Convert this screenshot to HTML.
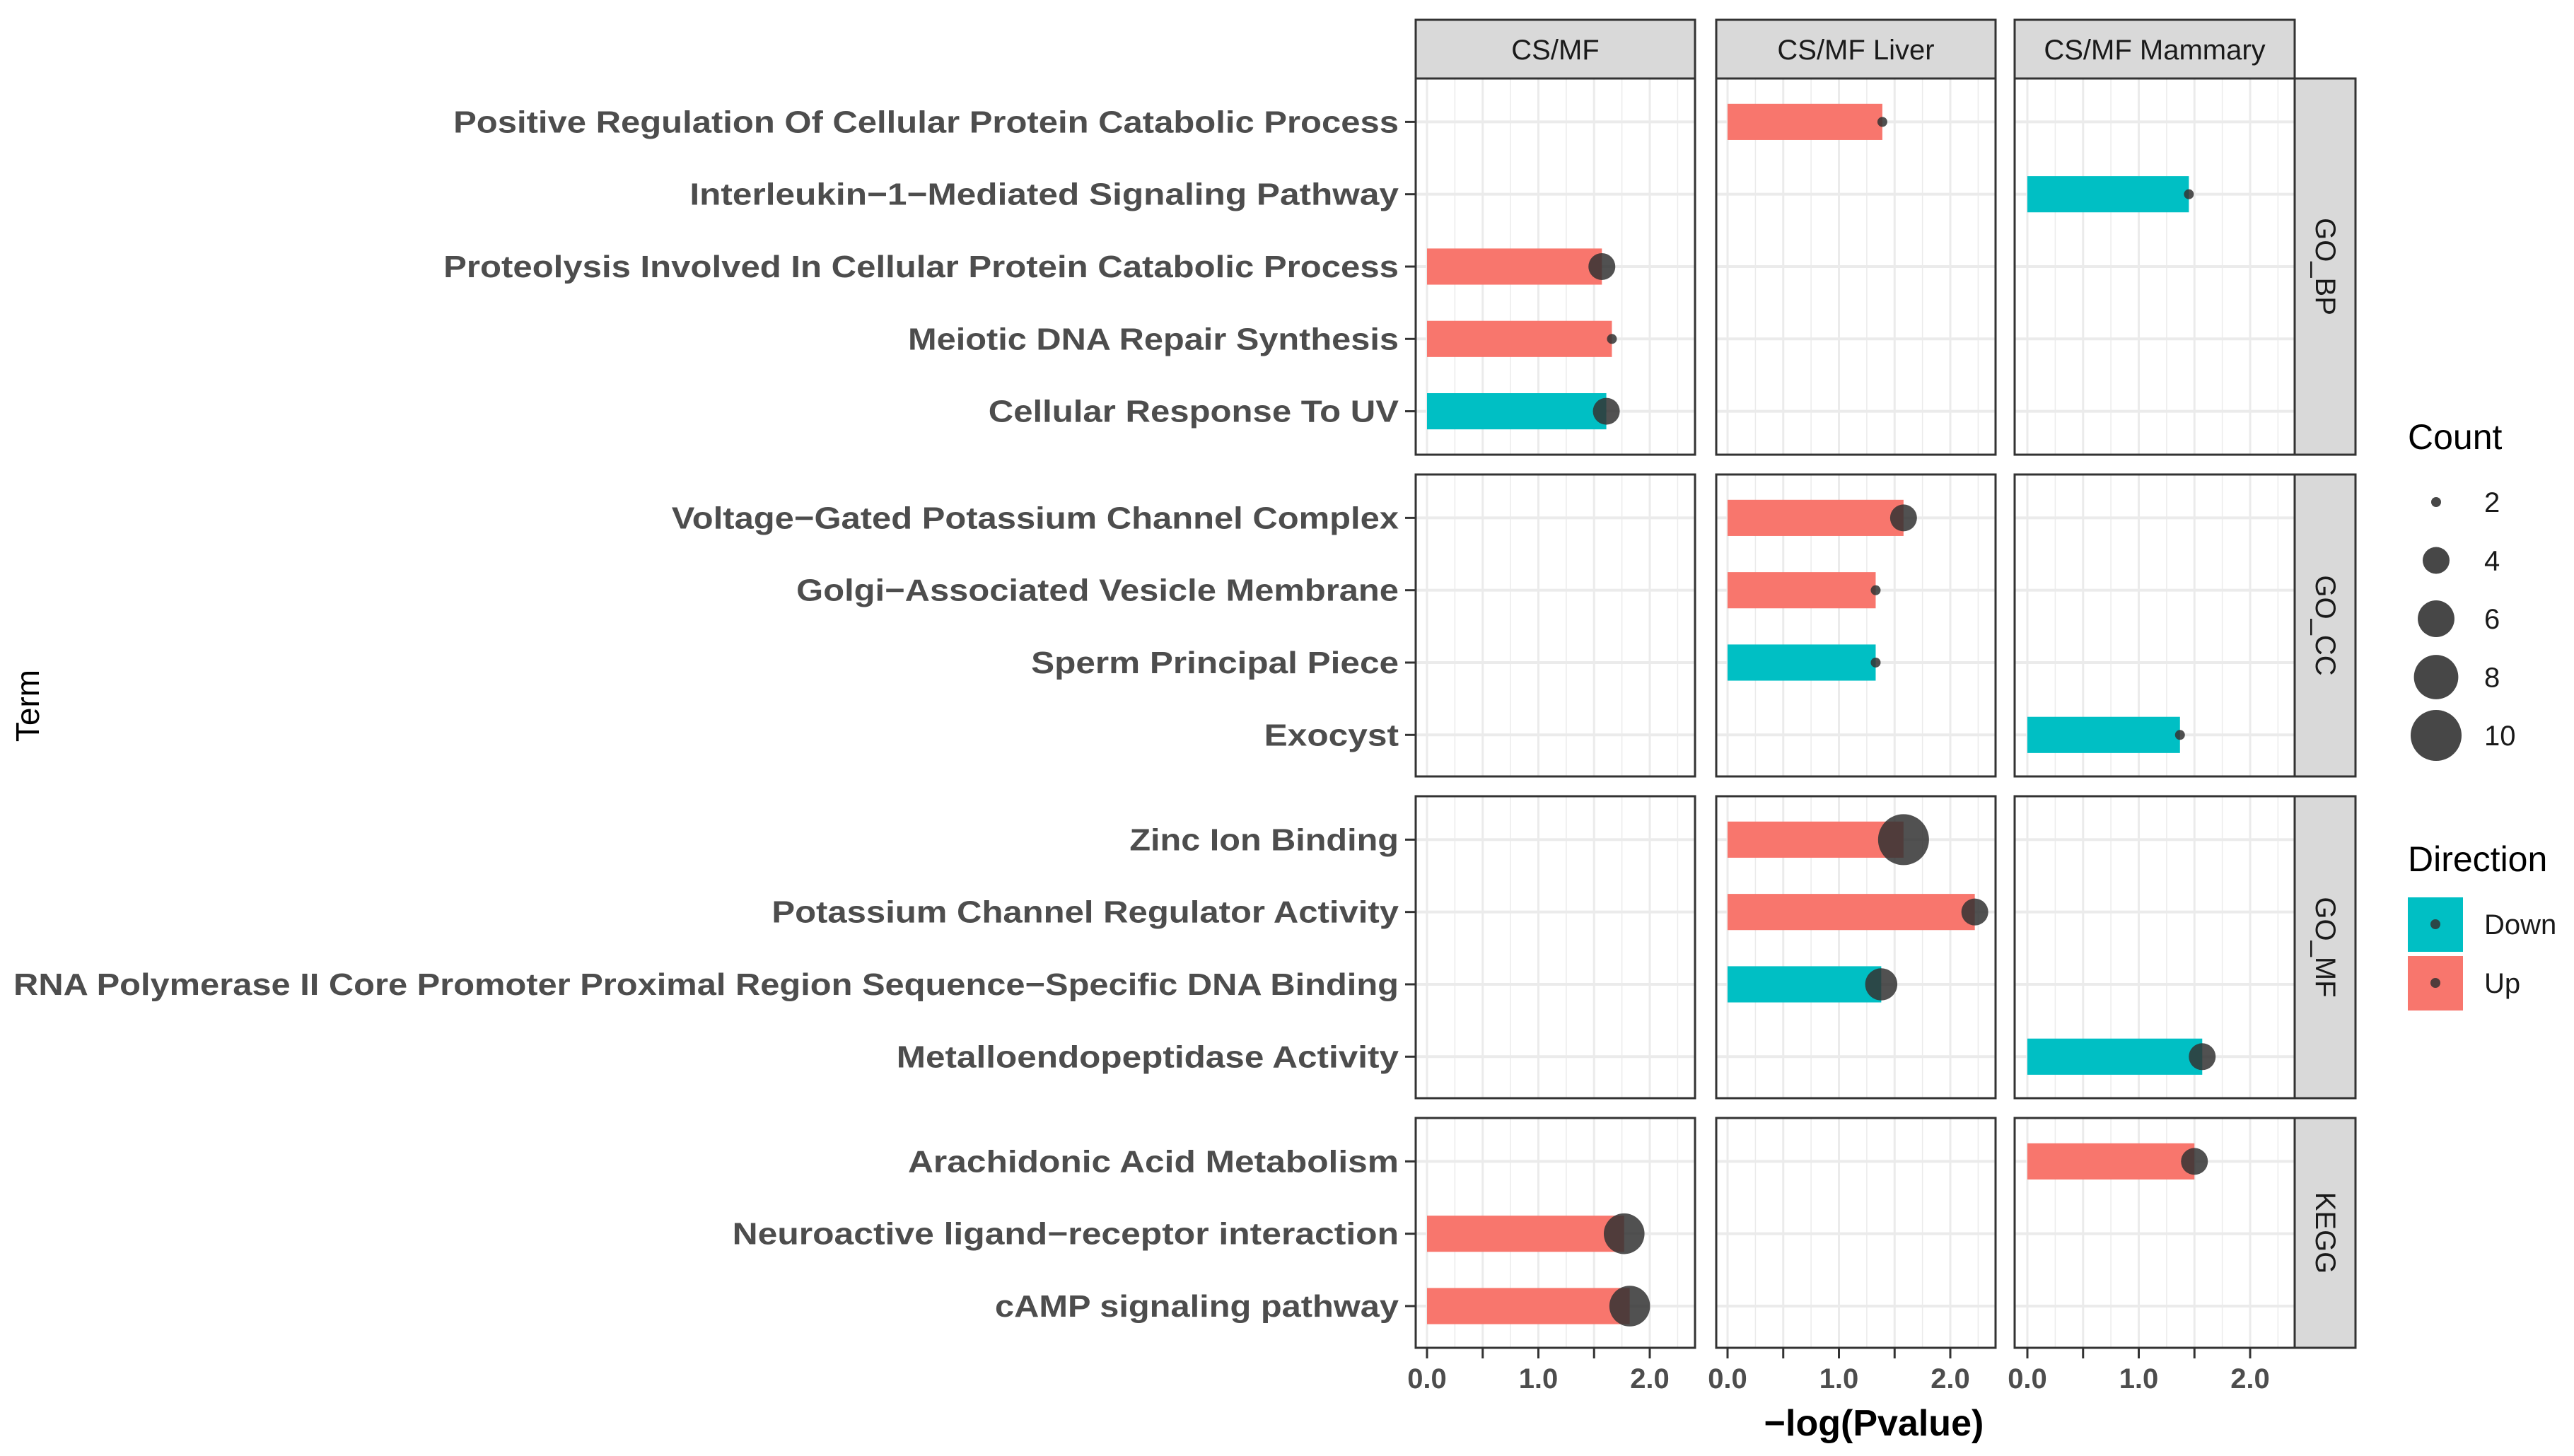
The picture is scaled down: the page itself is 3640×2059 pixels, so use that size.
<!DOCTYPE html>
<html><head><meta charset="utf-8"><style>
html,body{margin:0;padding:0;background:#fff;}
svg{display:block;font-family:"Liberation Sans",Arial,sans-serif;}
</style></head><body>
<svg id="chart" width="3640" height="2059" viewBox="0 0 3640 2059" xmlns="http://www.w3.org/2000/svg"></svg>
<script>
const panels = ["CS/MF","CS/MF Liver","CS/MF Mammary"];
const groups = ["GO_BP","GO_CC","GO_MF","KEGG"];
const terms = [
 ["Positive Regulation Of Cellular Protein Catabolic Process","Interleukin\u22121\u2212Mediated Signaling Pathway","Proteolysis Involved In Cellular Protein Catabolic Process","Meiotic DNA Repair Synthesis","Cellular Response To UV"],
 ["Voltage\u2212Gated Potassium Channel Complex","Golgi\u2212Associated Vesicle Membrane","Sperm Principal Piece","Exocyst"],
 ["Zinc Ion Binding","Potassium Channel Regulator Activity","RNA Polymerase II Core Promoter Proximal Region Sequence\u2212Specific DNA Binding","Metalloendopeptidase Activity"],
 ["Arachidonic Acid Metabolism","Neuroactive ligand\u2212receptor interaction","cAMP signaling pathway"]
];
const labelLeft = [[276,420,270,553,602],[409,485,628,770],[688,470,8,546],[553,446,606]];
// records: group index, term index, panel index
const recGroup = [0,0,0,0,0, 1,1,1,1, 2,2,2,2, 3,3,3];
const recTerm  = [0,1,2,3,4, 0,1,2,3, 0,1,2,3, 0,1,2];
const recPanel = [1,2,0,0,0, 1,1,1,2, 1,1,1,2, 2,0,0];
const values   = [1.39,1.45,1.57,1.66,1.61, 1.58,1.33,1.33,1.37, 1.58,2.22,1.38,1.57, 1.50,1.77,1.82];
const counts   = [2,2,4,2,4, 4,2,2,2, 10,4,5,4, 4,7,7];
const directions = ["Up","Down","Up","Up","Down", "Up","Up","Down","Down", "Up","Up","Down","Down", "Up","Up","Up"];
const xTicks = [0,0.5,1,1.5,2];
const xTickLabels = ["0.0","","1.0","","2.0"];
const legendCounts = [2,4,6,8,10];
const legendDirs = ["Down","Up"];

const svg = document.getElementById('chart');
const NS = "http://www.w3.org/2000/svg";
function el(tag, attrs, parent){const e=document.createElementNS(NS,tag);for(const k in attrs)e.setAttribute(k,attrs[k]);(parent||svg).appendChild(e);return e;}
const colors = {Up:"#F8766D", Down:"#00BFC4"};
const panelX = [[2002,2397],[2427,2822],[2849,3245]];
const zeroX = [2018,2443,2867];
const unit = 157.5;
const rowY = [[111,643],[671,1098],[1126,1553],[1581,1906]];
const step = 102.3;
function xScale(p,v){return zeroX[p]+v*unit;}
function yScale(g,t){return rowY[g][0]+(0.6+t)*step;}
function rScale(c){return Math.sqrt(49+156*(c-2));}

// strips top
panels.forEach((name,p)=>{
  const r=el('rect',{x:panelX[p][0],y:28,width:panelX[p][1]-panelX[p][0],height:83,fill:"#d9d9d9",stroke:"#333","stroke-width":3});
  
  
  const t=el('text',{x:(panelX[p][0]+panelX[p][1])/2,y:84,"text-anchor":"middle","font-size":40,fill:"#1a1a1a"});
  t.textContent=name;
  
  
});
// panels
groups.forEach((gname,g)=>{
  const [y0,y1]=rowY[g];
  panels.forEach((pn,p)=>{
    const [x0,x1]=panelX[p];
    const bg=el('rect',{x:x0,y:y0,width:x1-x0,height:y1-y0,fill:"#fff"});
    
    
    for(let v=-0.25; v<=2.4; v+=0.25){
      const isMajor = Math.abs(v*2-Math.round(v*2))<1e-6;
      if(v<-0.1) continue;
      el('line',{x1:xScale(p,v),x2:xScale(p,v),y1:y0,y2:y1,stroke:"#ebebeb","stroke-width":isMajor?3:1.5});
    }
    terms[g].forEach((tn,t)=>{el('line',{x1:x0,x2:x1,y1:yScale(g,t),y2:yScale(g,t),stroke:"#ebebeb","stroke-width":4});});
  });
  // right strip
  const rs=el('rect',{x:3245,y:y0,width:86,height:y1-y0,fill:"#d9d9d9",stroke:"#333","stroke-width":3});
  
  
  const cy=(y0+y1)/2;
  const rt=el('text',{x:3288,y:cy,"text-anchor":"middle","dominant-baseline":"central","font-size":40,fill:"#1a1a1a",transform:`rotate(90 3288 ${cy})`});
  rt.textContent=gname;
  
  
  // y labels
  terms[g].forEach((tn,t)=>{
    const y=yScale(g,t);
    el('line',{x1:1987,x2:2002,y1:y,y2:y,stroke:"#333","stroke-width":3});
    const w=(852-labelLeft[g][t])*2.321;
    const tx=el('text',{x:1978,y:y+15,"text-anchor":"end","font-size":44,"font-weight":"bold",fill:"#4d4d4d",textLength:w,lengthAdjust:"spacingAndGlyphs"});
    tx.textContent=tn;
    
    
  });
});
// bars and points
values.forEach((v,i)=>{
  const g=recGroup[i],t=recTerm[i],p=recPanel[i];
  const y=yScale(g,t);
  const b=el('rect',{x:xScale(p,0),y:y-0.25*step,width:xScale(p,v)-xScale(p,0),height:0.5*step,fill:colors[directions[i]]});
  
  
  const c=el('circle',{cx:xScale(p,v),cy:y,r:rScale(counts[i]),fill:"#333","fill-opacity":0.85});
  
  
});
// panel borders
groups.forEach((gname,g)=>{panels.forEach((pn,p)=>{
  el('rect',{x:panelX[p][0],y:rowY[g][0],width:panelX[p][1]-panelX[p][0],height:rowY[g][1]-rowY[g][0],fill:"none",stroke:"#333","stroke-width":3});
});});
// x axis ticks
panels.forEach((pn,p)=>{
  xTicks.forEach((v,k)=>{
    const x=xScale(p,v);
    el('line',{x1:x,x2:x,y1:1906,y2:1921,stroke:"#333","stroke-width":3});
    if(xTickLabels[k]){
      const t=el('text',{x:x,y:1963,"text-anchor":"middle","font-size":40,"font-weight":"bold",fill:"#4d4d4d"});
      t.textContent=xTickLabels[k];
      
      
    }
  });
});
const xt=el('text',{x:2650,y:2030,"text-anchor":"middle","font-size":52,"font-weight":"bold",fill:"#000"});
xt.textContent="\u2212log(Pvalue)";


const yt=el('text',{x:55,y:998,"text-anchor":"middle","font-size":46,fill:"#000",transform:"rotate(-90 55 998)"});
yt.textContent="Term";


// legends
const ct=el('text',{x:3405,y:635,"font-size":50,fill:"#000"});
ct.textContent="Count";


legendCounts.forEach((c,k)=>{
  const y=710+k*82.5;
  const cc=el('circle',{cx:3445,cy:y,r:rScale(c),fill:"#333","fill-opacity":0.9});
  
  
  const lt=el('text',{x:3513,y:y+14,"font-size":40,fill:"#1a1a1a"});
  lt.textContent=String(c);
  
  
});
const dt=el('text',{x:3405,y:1232,"font-size":50,fill:"#000"});
dt.textContent="Direction";


legendDirs.forEach((d,k)=>{
  const y=1269+k*83;
  const r=el('rect',{x:3405,y:y,width:78,height:77,fill:colors[d]});
  
  
  el('circle',{cx:3444,cy:y+38,r:7,fill:"#333","fill-opacity":0.85});
  const lt=el('text',{x:3513,y:y+52,"font-size":40,fill:"#1a1a1a"});
  lt.textContent=d;
  
  
});
</script>
</body></html>
